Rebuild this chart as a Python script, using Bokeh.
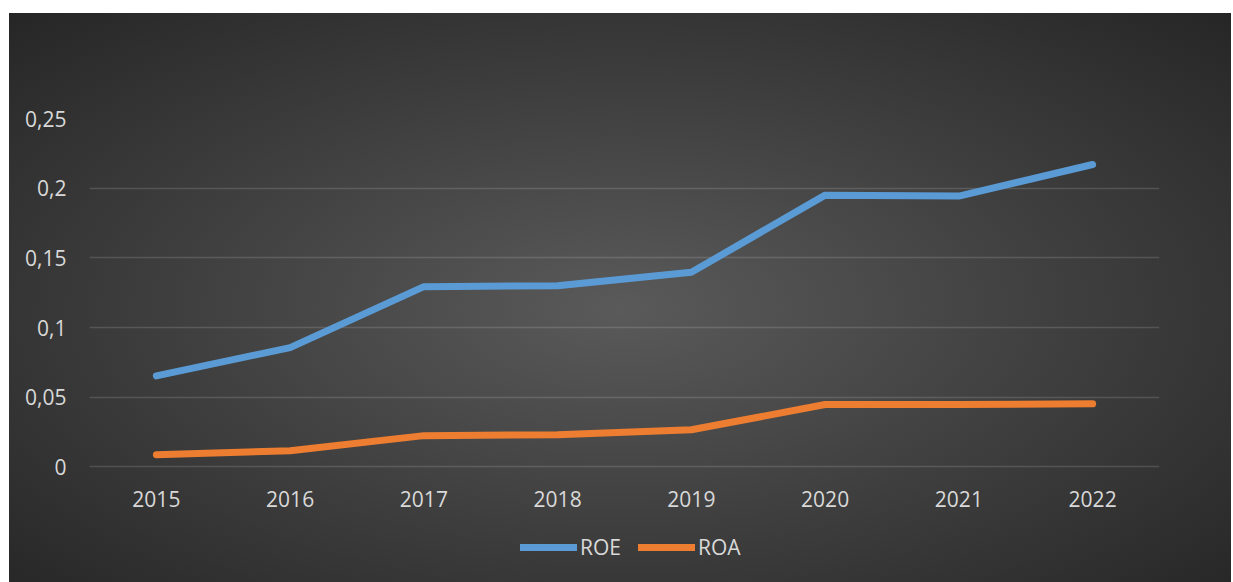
from bokeh.plotting import figure
from bokeh.models import (FactorRange, Range1d, FixedTicker, CustomJSTickFormatter,
                          Legend, LegendItem, ColumnDataSource)
from bokeh.embed import file_html
from bokeh.resources import INLINE

years = ["2015", "2016", "2017", "2018", "2019", "2020", "2021", "2022"]
roe = [0.0653, 0.0856, 0.1293, 0.1300, 0.1396, 0.1950, 0.1943, 0.2170]
roa = [0.0087, 0.0116, 0.0224, 0.0231, 0.0266, 0.0447, 0.0447, 0.0452]
y_ticks = [0, 0.05, 0.1, 0.15, 0.2, 0.25]

src = ColumnDataSource(dict(year=years, roe=roe, roa=roa))

W, H = 1222, 569
p = figure(x_range=FactorRange(*years, range_padding=0),
           y_range=Range1d(-0.083, 0.25),
           width=W, height=H, output_backend="svg", toolbar_location=None,
           min_border_left=80, min_border_right=72, min_border_top=105,
           min_border_bottom=0)
p.margin = (13, 2, 0, 9)
p.styles = {"background-image": "radial-gradient(ellipse at 50% 52%, #5a5a5a 0%, #3d3d3d 55%, #262626 100%)"}
p.background_fill_alpha = 0
p.border_fill_alpha = 0
p.outline_line_color = None

FONT = "Open Sans"
LABEL = "#d9d9d9"

p.xaxis.fixed_location = 0
p.yaxis.ticker = FixedTicker(ticks=y_ticks)
p.yaxis.formatter = CustomJSTickFormatter(code="return tick.toString().replace('.', ',');")
for ax in (p.xaxis[0], p.yaxis[0]):
    ax.axis_line_color = None
    ax.major_tick_line_color = None
    ax.minor_tick_line_color = None
    ax.major_label_text_color = LABEL
    ax.major_label_text_font = FONT
    ax.major_label_text_font_size = "21px"
p.yaxis.major_label_standoff = 17
p.xaxis.major_label_standoff = 18

p.xgrid.grid_line_color = None
p.ygrid.grid_line_color = "#ffffff"
p.ygrid.grid_line_alpha = 0.14
p.ygrid.grid_line_width = 1.5

r1 = p.line("year", "roe", source=src, line_color="#5B9BD5", line_width=7,
            line_cap="round", line_join="round")
r2 = p.line("year", "roa", source=src, line_color="#ED7D31", line_width=7,
            line_cap="round", line_join="round")

legend = Legend(items=[LegendItem(label="ROE", renderers=[r1]),
                       LegendItem(label="ROA", renderers=[r2])],
                orientation="horizontal", location=(431, 21),
                background_fill_alpha=0, border_line_color=None,
                label_text_color=LABEL, label_text_font=FONT,
                label_text_font_size="21px", glyph_width=57, glyph_height=22,
                label_standoff=3, spacing=17, margin=0, padding=0)
p.add_layout(legend, "center")

open("out.html", "w").write(file_html(p, INLINE))
